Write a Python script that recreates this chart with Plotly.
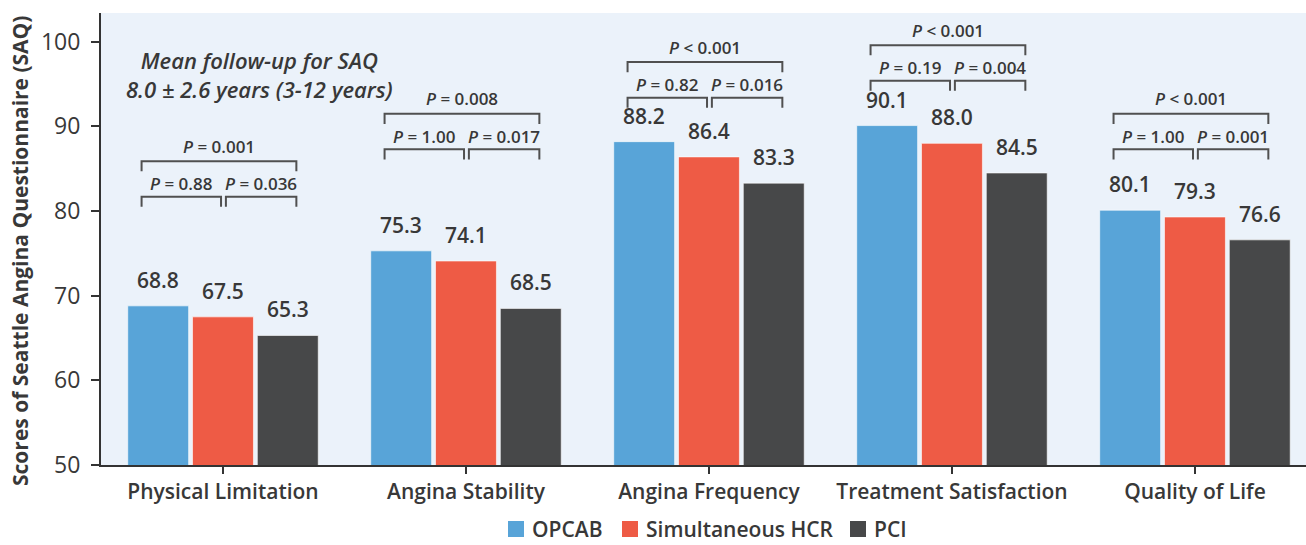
import plotly.graph_objects as go

# Seattle Angina Questionnaire domains and mean scores per strategy
categories = ["Physical Limitation", "Angina Stability", "Angina Frequency",
              "Treatment Satisfaction", "Quality of Life"]
opcab = [68.8, 75.3, 88.2, 90.1, 80.1]
hcr = [67.5, 74.1, 86.4, 88.0, 79.3]
pci = [65.3, 68.5, 83.3, 84.5, 76.6]

# Pairwise P values: OPCAB vs HCR, HCR vs PCI, OPCAB vs PCI
p_opcab_hcr = ["0.88", "1.00", "0.82", "0.19", "1.00"]
p_hcr_pci = ["0.036", "0.017", "0.016", "0.004", "0.001"]
p_opcab_pci = ["= 0.001", "= 0.008", "< 0.001", "< 0.001", "< 0.001"]

# Height (score units) of the lower comparison bracket for each domain
bracket_base = [81.7, 87.3, 93.4, 95.4, 87.3]

FONT = "Open Sans"
TXT = "#383838"
series = [("OPCAB", opcab, "#58A4D8"),
          ("Simultaneous HCR", hcr, "#EE5B45"),
          ("PCI", pci, "#474849")]

W, H = 1306, 545
ML, MR, MT, MB = 101, 0, 13, 80
PW, PH = W - ML - MR, H - MT - MB

fig = go.Figure()
for name, vals, col in series:
    fig.add_trace(go.Bar(
        name=name, x=categories, y=vals, showlegend=False,
        marker=dict(color=col, line=dict(color="rgba(255,255,255,0.6)", width=1)),
    ))

annotations = []
shapes = []
slot = 0.8 / 3
for k, (name, vals, col) in enumerate(series):
    off = (k - 1) * slot
    for i, v in enumerate(vals):
        annotations.append(dict(
            x=i + off, y=v, xref="x", yref="y", text=f"{v:.1f}",
            showarrow=False, yanchor="bottom", yshift=10,
            font=dict(family=FONT, size=21, color=TXT, weight=600)))

tick_h = 1.2
gap_up = 4.2
line = dict(color="#505050", width=2)
for i in range(len(categories)):
    y0 = bracket_base[i]
    y1 = y0 + gap_up
    xl, xm1, xm2, xr = i - 0.335, i - 0.008, i + 0.012, i + 0.302
    for a, b, y in [(xl, xm1, y0), (xm2, xr, y0), (xl, xr, y1)]:
        shapes.append(dict(type="path", xref="x", yref="y",
                           path=f"M {a},{y - tick_h} L {a},{y} L {b},{y} L {b},{y - tick_h}",
                           line=line))
    pfont = dict(family=FONT, size=17, color=TXT, weight=600)
    annotations += [
        dict(x=(xl + xm1) / 2, y=y0, xref="x", yref="y", showarrow=False,
             text=f"<i>P</i> = {p_opcab_hcr[i]}", yanchor="middle", yshift=13, font=pfont),
        dict(x=(xm2 + xr) / 2, y=y0, xref="x", yref="y", showarrow=False,
             text=f"<i>P</i> = {p_hcr_pci[i]}", yanchor="middle", yshift=13, font=pfont),
        dict(x=(xl + xr) / 2, y=y1, xref="x", yref="y", showarrow=False,
             text=f"<i>P</i> {p_opcab_pci[i]}", yanchor="middle", yshift=15, font=pfont),
    ]

annotations.append(dict(
    x=0.152, y=96.1, xref="x", yref="y", showarrow=False, align="center",
    text="<i>Mean follow-up for SAQ<br>8.0 ± 2.6 years (3-12 years)</i>",
    font=dict(family=FONT, size=22, color=TXT, weight=600)))

# Vertical axis title
annotations.append(dict(
    x=(20 - ML) / PW, y=(H - MB - 251) / PH, xref="paper", yref="paper", showarrow=False,
    text="Scores of Seattle Angina Questionnaire (SAQ)", textangle=-90,
    xanchor="center", yanchor="middle",
    font=dict(family=FONT, size=21, color=TXT, weight=700)))

# Legend row below the axis: colour swatch followed by the series name
legend_left_px = [508, 622, 850]
legend_mid_px = 529
sw = 16
for (name, vals, col), lx in zip(series, legend_left_px):
    shapes.append(dict(
        type="rect", xref="paper", yref="paper",
        x0=(lx - ML) / PW, x1=(lx + sw - ML) / PW,
        y0=(H - MB - (legend_mid_px + sw / 2)) / PH,
        y1=(H - MB - (legend_mid_px - sw / 2)) / PH,
        fillcolor=col, line=dict(width=0)))
    annotations.append(dict(
        x=(lx + sw + 6 - ML) / PW, y=(H - MB - legend_mid_px) / PH,
        xref="paper", yref="paper", showarrow=False, text=name,
        xanchor="left", yanchor="middle",
        font=dict(family=FONT, size=21, color=TXT, weight=600)))

fig.update_layout(
    width=W, height=H,
    margin=dict(l=ML, r=MR, t=MT, b=MB, autoexpand=False),
    paper_bgcolor="white", plot_bgcolor="#EBF2FA",
    barmode="group", bargap=0.2, bargroupgap=0.06,
    font=dict(family=FONT, color=TXT),
    showlegend=False,
    annotations=annotations, shapes=shapes,
)
fig.update_xaxes(
    range=[-0.502, 4.457], showgrid=False, showline=True, linecolor="#333", linewidth=2,
    ticks="outside", ticklen=7, tickwidth=2, tickcolor="#333",
    tickfont=dict(family=FONT, size=21, color=TXT, weight=600),
)
fig.update_yaxes(
    range=[50, 103.4], showgrid=False, zeroline=False, showline=True, linecolor="#333",
    linewidth=2, ticks="outside", ticklen=8, tickwidth=2, tickcolor="#333",
    tickvals=[50, 60, 70, 80, 90, 100], ticklabelstandoff=6,
    tickfont=dict(family=FONT, size=23, color=TXT, weight=500),
)

fig.write_html("out.html")
